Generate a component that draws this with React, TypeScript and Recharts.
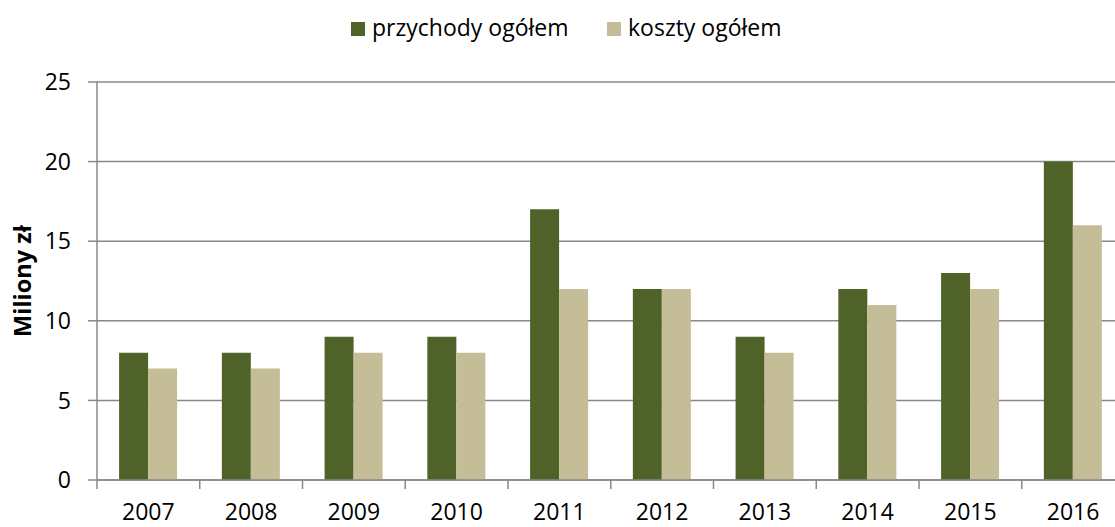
import React from 'react';
import { BarChart, Bar, XAxis, YAxis, CartesianGrid } from 'recharts';

const categories = ['2007', '2008', '2009', '2010', '2011', '2012', '2013', '2014', '2015', '2016'];
const przychody = [8, 8, 9, 9, 17, 12, 9, 12, 13, 20];
const koszty = [7, 7, 8, 8, 12, 12, 8, 11, 12, 16];
const yTicks = [0, 5, 10, 15, 20, 25];

const data = categories.map((c, i) => ({ year: c, przychody: przychody[i], koszty: koszty[i] }));

const CHART_W = 1130;
const CHART_H = 527;
const MARGIN = { top: 82, right: 5.5, left: 0, bottom: 0 };
const YAXIS_W = 97;
const XAXIS_H = 47;
const PLOT_W = CHART_W - MARGIN.left - MARGIN.right - YAXIS_W;
const HALF_BAND = PLOT_W / categories.length / 2;

const DARK = '#4F6228';
const LIGHT = '#C4BD97';
const GRID = '#888888';
const FONT = '"Open Sans", sans-serif';
const FS = 23;

const XTick = (props: any) => {
  const { x, y, payload } = props;
  return (
    <g>
      <line x1={x - HALF_BAND} x2={x - HALF_BAND} y1={y} y2={y + 9} stroke={GRID} strokeWidth={1.5} />
      <text x={x} y={y + 40} textAnchor="middle" fontSize={FS} fontFamily={FONT} fill="#000">
        {payload.value}
      </text>
    </g>
  );
};

export default function App() {
  return (
    <div style={{ position: 'fixed', left: 0, top: 0, width: 1115, height: 527, overflow: 'hidden', background: '#fff' }}>
      <BarChart
        width={CHART_W}
        height={CHART_H}
        data={data}
        margin={MARGIN}
        barCategoryGap="21.5%"
        barGap={0}
      >
        <CartesianGrid vertical={false} stroke={GRID} strokeWidth={1.5} />
        <XAxis
          dataKey="year"
          height={XAXIS_H}
          axisLine={{ stroke: GRID, strokeWidth: 1.5 }}
          tickLine={false}
          tickSize={0}
          tickMargin={0}
          interval={0}
          tick={<XTick />}
        />
        <YAxis
          width={YAXIS_W}
          domain={[0, 25]}
          ticks={yTicks}
          interval={0}
          axisLine={{ stroke: GRID, strokeWidth: 1.5 }}
          tickLine={{ stroke: GRID, strokeWidth: 1.5 }}
          tickSize={9}
          tickMargin={17}
          tick={{ fontSize: FS, fontFamily: FONT, fill: '#000' }}
          label={{
            content: () => (
              <text
                x={31}
                y={281}
                transform="rotate(-90 31 281)"
                textAnchor="middle"
                fontSize={23.5}
                fontWeight="bold"
                fontFamily={FONT}
                fill="#000"
              >
                Miliony zł
              </text>
            ),
          }}
        />
        <Bar dataKey="przychody" name="przychody ogółem" fill={DARK} isAnimationActive={false} />
        <Bar dataKey="koszty" name="koszty ogółem" fill={LIGHT} isAnimationActive={false} />
      </BarChart>
      <div style={{ position: 'absolute', left: 351, top: 22, width: 14, height: 14, background: DARK }} />
      <div style={{ position: 'absolute', left: 372, top: 12, fontSize: 23, fontFamily: FONT, lineHeight: '30px', color: '#000', whiteSpace: 'nowrap' }}>
        przychody ogółem
      </div>
      <div style={{ position: 'absolute', left: 607, top: 22, width: 14, height: 14, background: LIGHT }} />
      <div style={{ position: 'absolute', left: 628, top: 12, fontSize: 23, fontFamily: FONT, lineHeight: '30px', color: '#000', whiteSpace: 'nowrap' }}>
        koszty ogółem
      </div>
    </div>
  );
}
